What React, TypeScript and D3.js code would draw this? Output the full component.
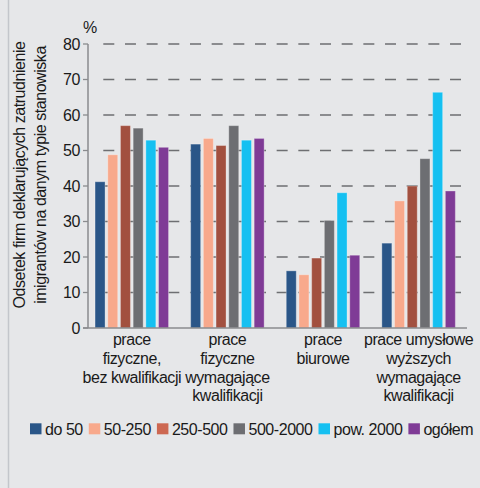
import * as d3 from 'd3';

const categories = [
  ['prace', 'fizyczne,', 'bez kwalifikacji'],
  ['prace', 'fizyczne', 'wymagające', 'kwalifikacji'],
  ['prace', 'biurowe'],
  ['prace umysłowe', 'wyższych', 'wymagające', 'kwalifikacji'],
];
const seriesNames = ['do 50', '50-250', '250-500', '500-2000', 'pow. 2000', 'ogółem'];
const do50 = [41.2, 51.8, 16.1, 23.9];
const s50_250 = [48.8, 53.4, 15.0, 35.8];
const s250_500 = [57.0, 51.4, 19.7, 40.0];
const s500_2000 = [56.3, 57.0, 30.3, 47.7];
const pow2000 = [52.9, 52.9, 38.1, 66.4];
const ogolem = [50.9, 53.4, 20.5, 38.6];
const seriesValues = [do50, s50_250, s250_500, s500_2000, pow2000, ogolem];
const yTicks = [0, 10, 20, 30, 40, 50, 60, 70, 80];

const barColors = ['#2a5688', '#f8a98c', '#a2503f', '#6d6e72', '#15c0f1', '#7f3b96'];
const legendColors = ['#2a5688', '#f8a98c', '#cd6852', '#6d6e72', '#15c0f1', '#7f3b96'];

const W = 480;
const H = 488;
const FONT = "'Liberation Sans', Arial, sans-serif";
const LS = -0.45;

function textWidth(s: string, size = 16) {
  const c = document.createElement('canvas').getContext('2d')!;
  c.font = `${size}px ${FONT}`;
  return c.measureText(s).width + LS * s.length;
}

export default function App() {
  const y = d3.scaleLinear().domain([0, 80]).range([328, 44]);
  const x0 = d3.scaleBand<number>().domain(d3.range(categories.length)).range([84, 466.4]);
  const innerW = 76.2;
  const x1 = d3.scaleBand<number>().domain(d3.range(seriesNames.length)).range([0, innerW]).paddingInner(0.213).paddingOuter(0.1065);
  const innerOff = (x0.bandwidth() - innerW) / 2;
  const axisX = 88;
  const gridStart = 103.3;
  const gridEnd = 461;

  // legend layout
  let lx = 30;
  const legendItems = seriesNames.map((name, i) => {
    const item = { name, i, x: lx };
    lx += 11.5 + 3.5 + textWidth(name) + 6;
    return item;
  });

  return (
    <svg width={W} height={H} style={{ position: 'absolute', left: 0, top: 0 }} fontFamily={FONT}>
      <rect width={W} height={H} fill="#e6e7e9" />
      <line x1={8.5} x2={8.5} y1={0} y2={H} stroke="#c3c6cb" strokeWidth={1.5} />

      {/* gridlines */}
      {yTicks.filter((t) => t > 0).map((t) => (
        <line key={'g' + t} x1={gridStart} x2={gridEnd} y1={y(t)} y2={y(t)}
          stroke="#6e6f72" strokeWidth={1.3} strokeDasharray="11 10.67" />
      ))}
      {/* ticks */}
      {yTicks.map((t) => (
        <g key={'t' + t}>
          <line x1={83} x2={axisX} y1={y(t)} y2={y(t)} stroke="#8a8b8e" strokeWidth={1.3} />
          <text x={80} y={y(t)} dy="0.36em" textAnchor="end" fontSize={16} letterSpacing={LS} fill="#1a1a1a">{t}</text>
        </g>
      ))}
      <text x={83} y={33} fontSize={16} letterSpacing={LS} fill="#1a1a1a">%</text>

      {/* bars */}
      {categories.map((_, ci) => (
        <g key={'c' + ci} transform={`translate(${x0(ci)! + innerOff},0)`}>
          {seriesValues.map((vals, si) => (
            <rect key={si} x={x1(si)} y={y(vals[ci])} width={x1.bandwidth()} height={y(0) - y(vals[ci])}
              fill={barColors[si]} stroke="rgba(255,255,255,0.3)" strokeWidth={1} />
          ))}
        </g>
      ))}

      {/* axes */}
      <line x1={axisX} x2={axisX} y1={y(80)} y2={y(0)} stroke="#8a8b8e" strokeWidth={1.5} />
      <line x1={83} x2={467} y1={y(0)} y2={y(0)} stroke="#8a8b8e" strokeWidth={1.5} />

      {/* category labels */}
      {categories.map((lines, ci) => (
        <text key={'l' + ci} x={x0(ci)! + x0.bandwidth() / 2} y={345} textAnchor="middle" fontSize={16} letterSpacing={LS} fill="#1a1a1a">
          {lines.map((ln, k) => (
            <tspan key={k} x={x0(ci)! + x0.bandwidth() / 2} dy={k === 0 ? 0 : 18.8}>{ln}</tspan>
          ))}
        </text>
      ))}

      {/* y title */}
      <g transform="translate(25,175) rotate(-90)">
        <text textAnchor="middle" fontSize={16} letterSpacing={LS} fill="#1a1a1a">
          <tspan x={0} y={0}>Odsetek firm deklarujących zatrudnienie</tspan>
          <tspan x={0} y={21}>imigrantów na danym typie stanowiska</tspan>
        </text>
      </g>

      {/* legend */}
      {legendItems.map((it) => (
        <g key={'lg' + it.i}>
          <rect x={it.x} y={423.3} width={11.5} height={11} fill={legendColors[it.i]} />
          <text x={it.x + 15} y={429} dy="0.36em" fontSize={16} letterSpacing={LS} fill="#1a1a1a">{it.name}</text>
        </g>
      ))}
    </svg>
  );
}
